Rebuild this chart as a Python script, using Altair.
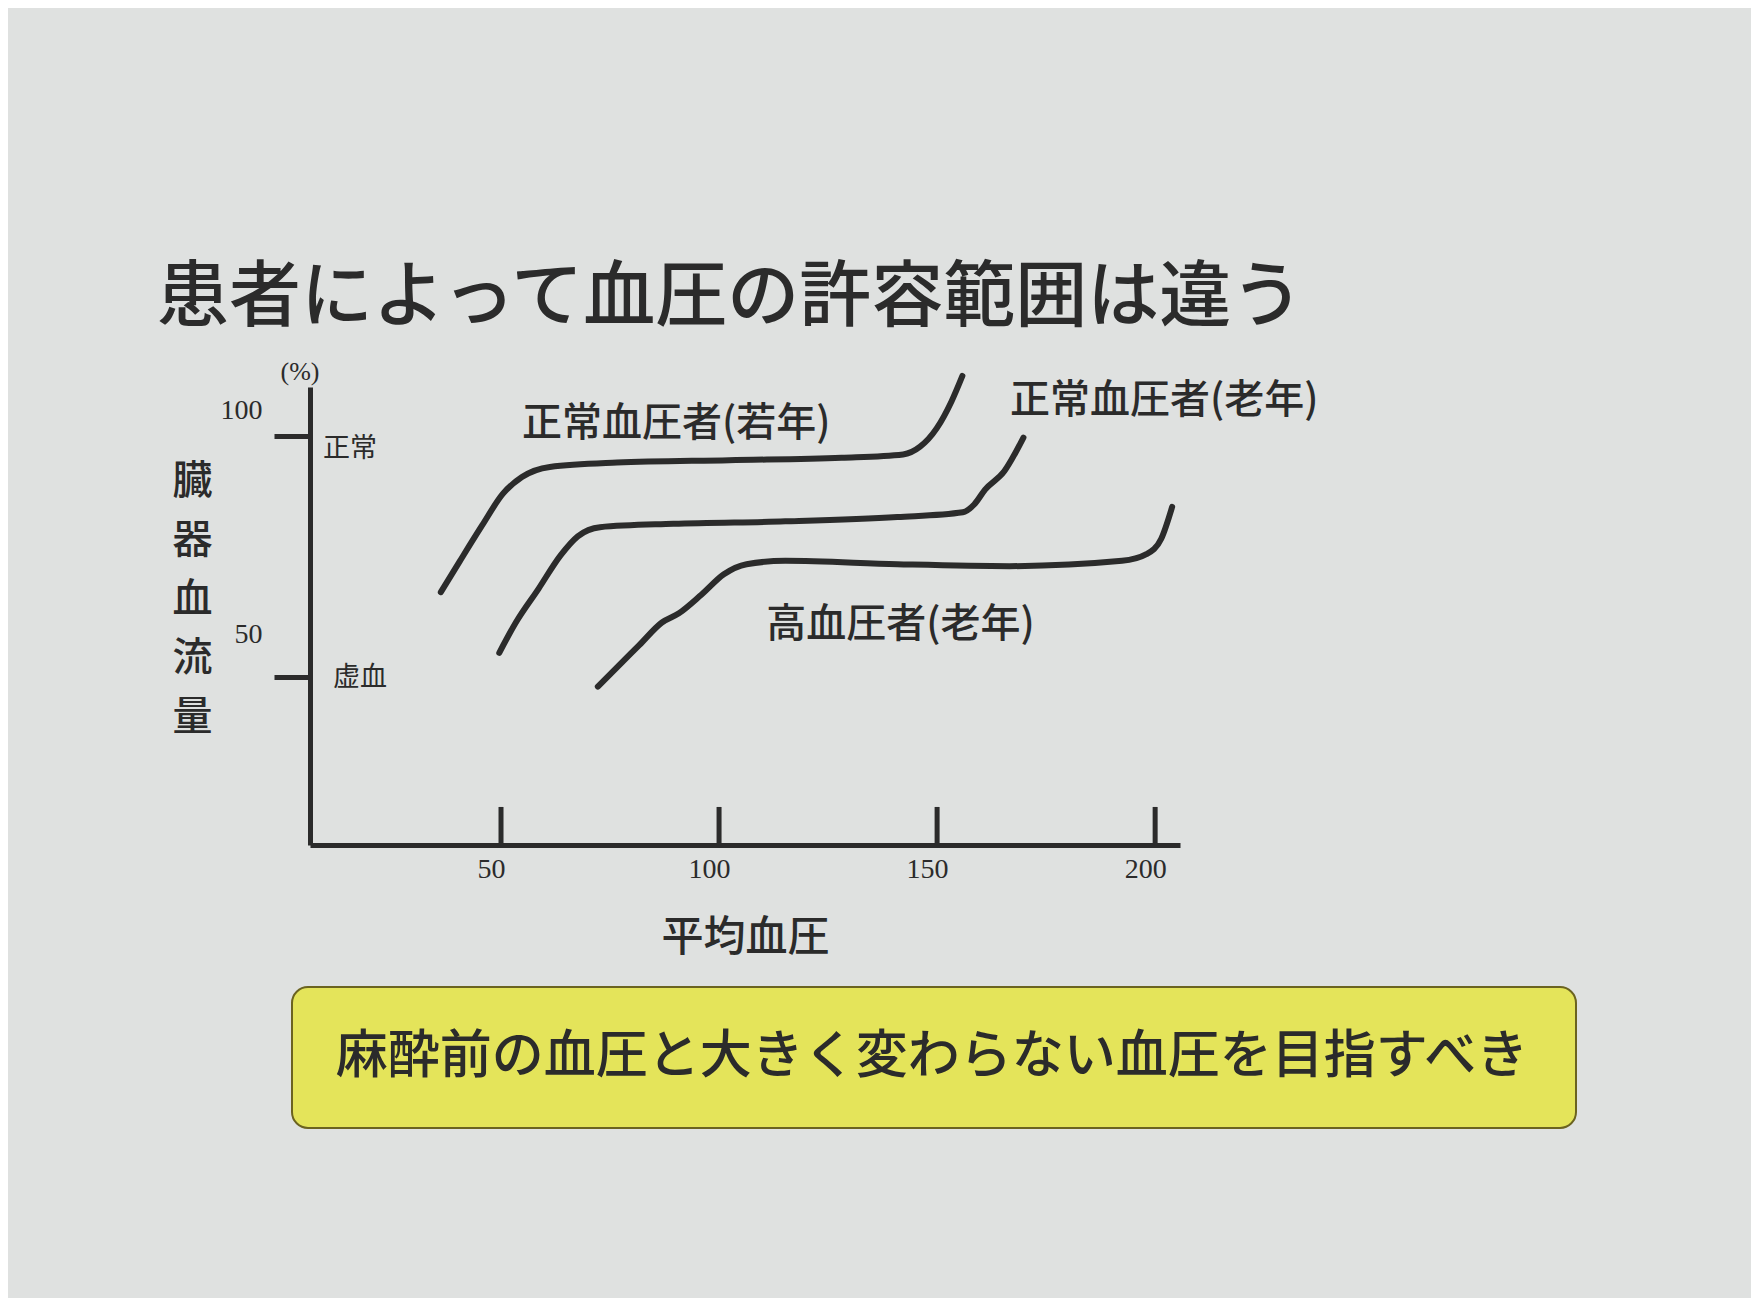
import altair as alt
import pandas as pd

# ---- data ----
young_x = [36.2, 40.6, 45.7, 50.4, 54.8, 61.2, 76.6, 102.3, 128.1, 142.2, 146.1, 149.9, 153.3, 155.8]
young_y = [67.6, 74.1, 81.5, 88.0, 91.5, 93.6, 94.5, 95.0, 95.5, 96.2, 97.8, 101.6, 107.2, 112.5]

old_x = [49.6, 53.4, 58.6, 63.7, 67.6, 72.7, 89.5, 115.2, 140.9, 155.9, 158.5, 161.0, 165.4, 169.8]
old_y = [55.0, 61.3, 68.3, 75.3, 79.2, 81.1, 81.8, 82.3, 83.2, 84.2, 85.8, 88.9, 92.7, 99.7]

hyper_x = [72.2, 76.6, 81.7, 86.9, 90.8, 96.0, 101.1, 106.3, 115.2, 140.9, 166.6, 192.4, 198.0, 201.4, 203.9]
hyper_y = [48.0, 52.0, 56.6, 61.3, 63.2, 67.1, 71.3, 73.4, 74.1, 73.4, 73.0, 74.1, 75.5, 78.7, 85.3]

series_names = ["正常血圧者(若年)", "正常血圧者(老年)", "高血圧者(老年)"]
label_x = [54.8, 166.7, 110.8]
label_y = [102.5, 107.3, 60.8]

zone_labels = ["正常", "虚血"]
zone_x = [9.2, 11.5]
zone_y = [97.3, 49.8]

unit_label = ["(%)"]
unit_x = [3.9]
unit_y = [113.3]

x_ticks = [50, 100, 150, 200]
y_ticks = [50, 100]

chart_title = "患者によって血圧の許容範囲は違う"
x_title = "平均血圧"
y_title = "臓器血流量"
message = ["麻酔前の血圧と大きく変わらない血圧を目指すべき"]

X_DOM = [6.2, 205.7]
Y_DOM = [15.1, 110.2]

INK = "#2b2b2b"
BG = "#dfe1e0"
JP = "Noto Sans CJK JP"
SERIF = "Liberation Serif"

# ---- tables ----
rows = []
for name, xs_, ys_ in zip(series_names, [young_x, old_x, hyper_x], [young_y, old_y, hyper_y]):
    for i, (a, b) in enumerate(zip(xs_, ys_)):
        rows.append({"series": name, "i": i, "x": a, "y": b})
lines_df = pd.DataFrame(rows)

labels_df = pd.DataFrame({"x": label_x, "y": label_y, "t": series_names})
zones_df = pd.DataFrame({"x": zone_x, "y": zone_y, "t": zone_labels})
unit_df = pd.DataFrame({"x": unit_x, "y": unit_y, "t": unit_label})
ticks_df = pd.DataFrame({"x": x_ticks, "y": [Y_DOM[0]] * len(x_ticks),
                         "y2": [Y_DOM[0] + 7.9] * len(x_ticks)})
msg_df = pd.DataFrame({"t": message})

xs = alt.Scale(domain=X_DOM, nice=False, zero=False)
ys = alt.Scale(domain=Y_DOM, nice=False, zero=False)

x_axis = alt.Axis(
    values=x_ticks, ticks=False, grid=False,
    domainColor=INK, domainWidth=5,
    labelFont=SERIF, labelFontSize=28, labelColor=INK, labelPadding=10, labelOffset=-10,
    title=x_title, titleFont=JP, titleFontSize=42, titleFontWeight=500,
    titleColor=INK, titlePadding=34,
)
y_axis = alt.Axis(
    values=y_ticks, grid=False,
    domainColor=INK, domainWidth=5,
    tickColor=INK, tickWidth=5, tickSize=36,
    labelFont=SERIF, labelFontSize=28, labelColor=INK, labelPadding=12,
    labelOffset={"condition": {"test": "datum.value == 100", "value": -26}, "value": -42},
    labelBaseline="middle",
    title=list(y_title), titleAngle=0, titleFont=JP, titleFontSize=40,
    titleFontWeight=500, titleColor=INK, titleAlign="center",
    titleBaseline="top", titleX=-118, titleY=74, titleLineHeight=59,
)

X = alt.X("x:Q", scale=xs, axis=x_axis)
Y = alt.Y("y:Q", scale=ys, axis=y_axis)

curves = alt.Chart(lines_df).mark_line(
    color=INK, strokeWidth=6, interpolate="monotone", clip=False, strokeCap="round"
).encode(x=X, y=Y, detail="series:N", order="i:Q")

xticks = alt.Chart(ticks_df).mark_rule(color=INK, strokeWidth=5).encode(
    x=X, y=Y, y2="y2:Q")

curve_labels = alt.Chart(labels_df).mark_text(
    font=JP, fontSize=40, fontWeight=500, color=INK, align="left", baseline="middle"
).encode(x=X, y=Y, text="t:N")

zone_text = alt.Chart(zones_df).mark_text(
    font=JP, fontSize=27, color=INK, align="left", baseline="middle"
).encode(x=X, y=Y, text="t:N")

unit_text = alt.Chart(unit_df).mark_text(
    font=SERIF, fontSize=26, color=INK, align="center", baseline="middle"
).encode(x=X, y=Y, text="t:N")

box = alt.Chart(msg_df).mark_rect(
    fill="#e4e45a", stroke="#6b6320", strokeWidth=2, cornerRadius=16
).encode(x=alt.value(-18), x2=alt.value(1266), y=alt.value(600), y2=alt.value(741))

box_text = alt.Chart(msg_df).mark_text(
    font=JP, fontSize=52, fontWeight=500, color=INK, align="center", baseline="middle"
).encode(x=alt.value(622), y=alt.value(670), text="t:N")

chart = alt.layer(
    curves, xticks, curve_labels, zone_text, unit_text, box, box_text
).properties(
    width=870, height=458,
    title=alt.TitleParams(
        text=chart_title, anchor="start", frame="group", dx=-153, offset=24,
        font=JP, fontSize=72, fontWeight=500, color=INK,
    ),
    autosize=alt.AutoSizeParams(type="none"),
    padding={"left": 302, "top": 379, "right": 571, "bottom": 453},
    background=BG,
).configure_view(stroke=None)

chart.save("out.html", embed_options={"renderer": "svg", "actions": False})
